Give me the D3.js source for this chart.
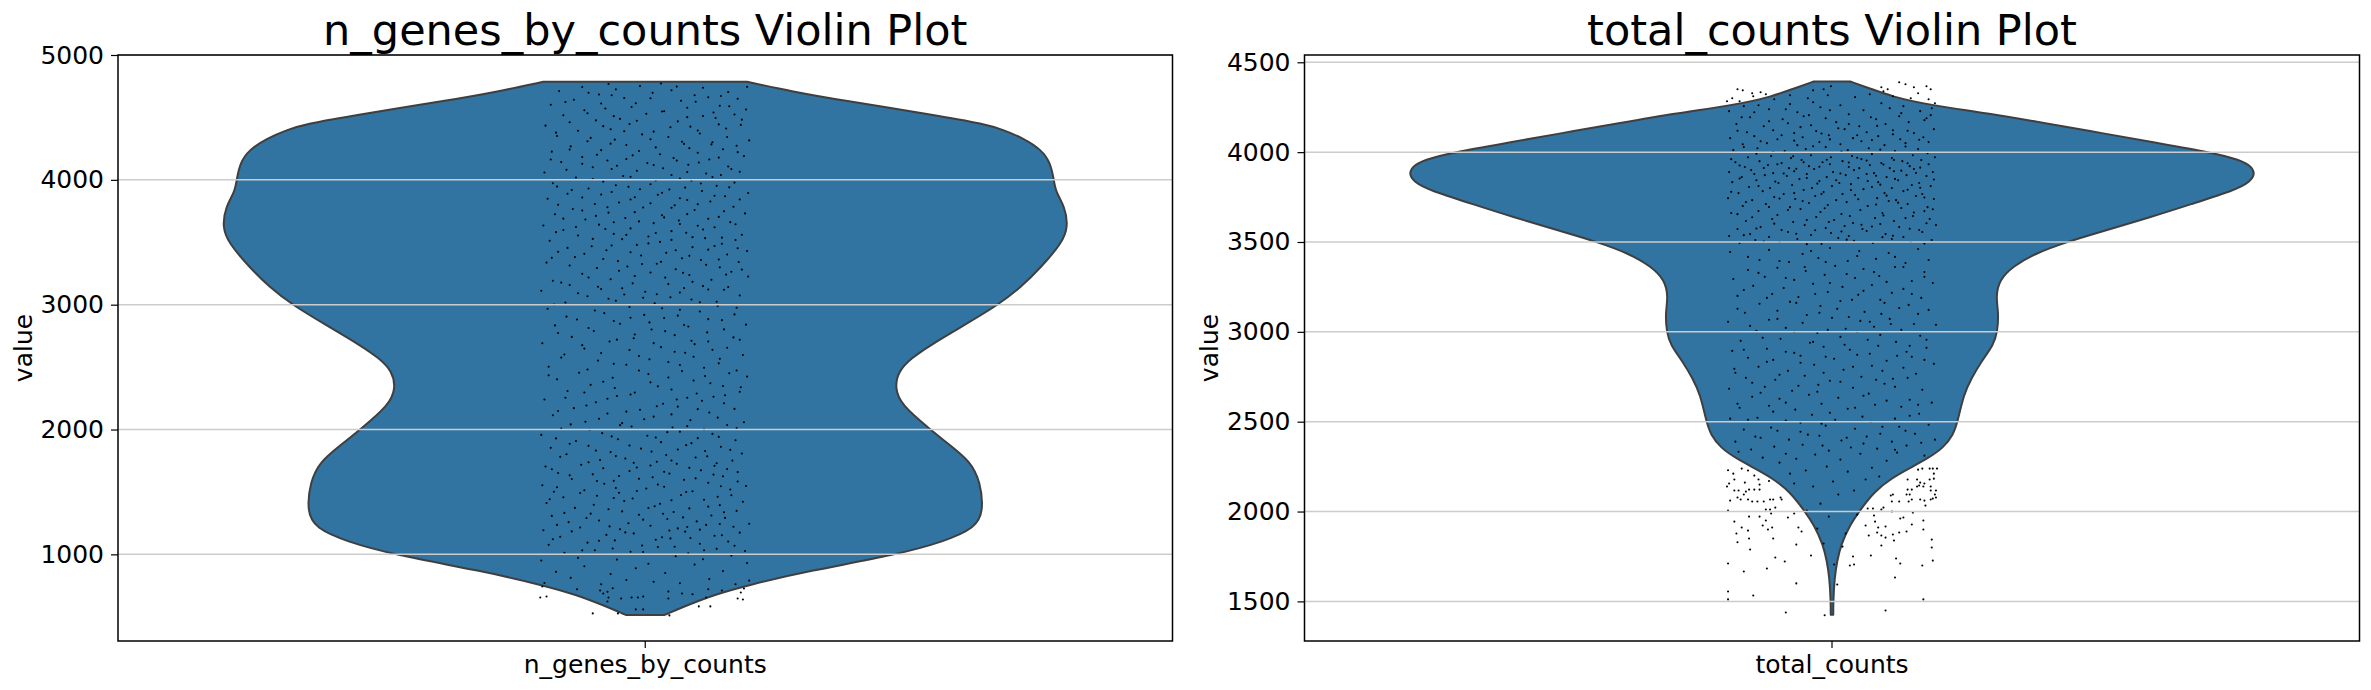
<!DOCTYPE html>
<html><head><meta charset="utf-8">
<script src="https://cdnjs.cloudflare.com/ajax/libs/d3/7.8.5/d3.min.js"></script>
<style>html,body{margin:0;background:#fff}svg{display:block}text{font-family:"DejaVu Sans",sans-serif;fill:#000}</style>
</head><body><svg id="c" width="2371" height="690"></svg>
<script>
const geneTicks=[1000,2000,3000,4000,5000];
const totalTicks=[1500,2000,2500,3000,3500,4000,4500];
const geneDomain=[306,5000];
const totalDomain=[1279.6,4540.6];
const geneViolinValues=[4785,4706,4640,4520,4447,4400,4333,4240,4135,4000,3906,3785,3625,3493,3305,3145,3000,2840,2680,2572,2465,2332,2198,2000,1878,1744,1584,1344,1210,1104,1000,863,757,677,596,515];
const geneViolinDensity=[24.1,35,45.9,68.3,80.4,84.7,89.4,93.7,95.8,96.6,97,99.2,100,98.5,93.7,89,83.5,75.6,67.6,62.9,59.8,59,60.5,67.4,71.9,76.9,79.2,80,78,70.7,59.8,38,24.7,16.3,10.2,4.6];
const totalViolinValues=[4393,4356,4309,4263,4217,4161,4106,4050,4000,3957,3920,3879,3836,3790,3716,3642,3550,3500,3438,3364,3290,3197,3105,3000,2928,2835,2743,2650,2500,2428,2354,2298,2243,2187,2112,2000,1927,1816,1723,1631,1500,1425];
const totalViolinDensity=[4.3,8.8,14.2,22.8,36.8,50.5,63.8,77.2,89.3,96.6,99.2,100,98.9,95.4,85.6,75.9,62.6,55.5,48.2,42.7,39.6,38.7,39.4,39.1,38.2,35.3,33,31.1,29.7,28.7,26.3,22.8,18.5,14.2,10,6.4,4.3,2.1,1.2,.6,.3,.3];
// strip points: offset (-100..100 of jitter width), value, alternating
const genePoints=[-100,655,-94,663,-98,743,-50,527,-26,527,-9,559,-2,559,23,511,51,583,62,583,88,647,93,639,91,695,94,727,-23,647,-13,655,-7,655,-2,663,22,647,22,703,-36,623,-35,655,-40,687,-43,711,-36,700,-31,728,-65,720,35,687,45,680,58,655,60,720,73,711,86,760,99,790,
-96,771,-71,812,-42,760,-18,795,8,781,33,768,61,802,-85,860,-58,905,-33,842,-9,889,19,851,47,918,74,866,97,930,-99,951,-64,972,-27,958,3,925,29,985,55,961,82,990,-77,1012,-48,1033,-14,1021,12,1058,41,1009,68,1044,95,1027,-92,1076,-55,1094,-29,1112,-3,1071,24,1128,52,1085,79,1103,-81,1141,-37,1156,-11,1168,16,1137,38,1182,66,1149,90,1174,-97,1193,-62,1215,-24,1201,5,1229,31,1208,58,1236,84,1221,-73,1258,-44,1271,-16,1249,21,1283,49,1264,76,1292,99,1245,-89,1308,-52,1326,-6,1317,27,1339,63,1311,87,1348,-67,1372,-35,1361,9,1385,42,1368,71,1394,-94,1412,-20,1427,14,1405,56,1438,93,1421,-78,1457,-46,1469,-12,1448,34,1476,69,1461,-87,1501,-58,1514,-25,1493,1,1527,45,1506,81,1519,-98,1553,-39,1566,18,1541,60,1574,96,1547,-70,1603,-30,1589,7,1618,37,1597,74,1625,-83,1652,-50,1641,-15,1668,23,1647,53,1673,88,1659,-95,1704,-61,1718,-8,1696,30,1725,66,1709,-43,1755,-19,1768,11,1742,48,1776,83,1751,-75,1802,-33,1819,20,1795,57,1828,92,1808,-90,1853,-54,1869,-4,1847,39,1875,72,1861,-66,1908,-26,1922,15,1899,50,1931,86,1914,-99,1957,-41,1971,2,1950,33,1983,64,1965,-80,2008,-13,2024,26,2016,78,2036,-57,2062,-22,2051,43,2075,94,2058,-88,2114,-36,2128,8,2103,61,2136,-68,2171,-5,2158,31,2183,85,2165,-47,2219,17,2207,54,2231,-96,2240,-27,2268,40,2254,76,2275,-74,2309,-10,2296,25,2321,90,2302,-52,2358,12,2346,62,2371,-84,2402,-31,2415,46,2393,97,2424,-63,2455,3,2444,35,2468,80,2451,-92,2503,-18,2519,56,2495,-45,2552,22,2541,71,2566,-77,2601,-6,2589,38,2615,93,2597,-58,2648,15,2660,64,2638,-98,2691,-34,2705,47,2684,-70,2742,-11,2731,28,2756,84,2738,-49,2789,6,2801,59,2778,-86,2834,-24,2847,41,2825,96,2840,-65,2881,18,2893,73,2876,-39,2932,-1,2918,52,2945,-93,2968,-15,2981,33,2959,87,2975,-76,3018,-28,3031,9,3011,44,3042,68,3024,-55,3068,-20,3081,24,3059,90,3074,-99,3112,-42,3125,0,3104,37,3133,75,3119,-72,3158,-12,3171,55,3149,-33,3204,-88,3192,19,3217,63,3199,98,3226,-60,3247,5,3258,42,3238,82,3264,-46,3293,-17,3306,29,3284,71,3299,-94,3337,-26,3349,11,3328,53,3358,89,3342,-67,3381,-4,3394,35,3372,78,3402,-83,3423,-37,3436,20,3415,60,3441,97,3429,-51,3468,-8,3479,45,3461,73,3488,-91,3512,-22,3525,14,3503,57,3533,86,3518,-64,3554,-30,3567,3,3546,39,3576,92,3560,-78,3598,-14,3611,25,3589,66,3620,-44,3641,-97,3634,8,3653,50,3632,81,3661,-57,3682,-19,3694,32,3674,70,3703,-86,3724,-35,3737,16,3716,95,3731,-69,3766,-2,3778,47,3758,84,3785,-48,3806,-25,3819,28,3797,62,3827,-93,3848,-10,3861,40,3839,76,3869,-74,3889,-32,3902,12,3881,54,3911,98,3895,-54,3931,-16,3944,23,3923,68,3952,-88,3973,-40,3986,5,3965,44,3994,85,3978,-66,4019,-21,4031,33,4010,72,4038,-96,4059,-8,4072,58,4051,90,4065,-50,4101,-27,4113,17,4093,41,4121,79,4107,-80,4142,-36,4155,2,4134,61,4163,-60,4183,-12,4196,27,4175,94,4190,-89,4226,-42,4238,50,4217,74,4245,-71,4268,-18,4279,10,4260,37,4288,87,4273,-55,4309,-29,4322,64,4301,99,4316,-84,4351,-3,4364,22,4343,52,4371,-64,4393,-33,4405,8,4386,77,4411,-95,4434,-15,4447,43,4426,91,4440,-47,4476,-24,4488,31,4468,67,4495,-78,4517,1,4529,55,4511,85,4523,-58,4558,-38,4571,18,4550,40,4578,96,4563,-90,4601,-9,4613,71,4594,-68,4642,-20,4655,34,4634,60,4661,88,4649,-44,4684,7,4697,47,4677,-82,4711,-28,4725,25,4718,79,4704,-60,4743,-5,4751,55,4738,97,4745,-35,4768,15,4772,
-60,1032,-31,1047,-2,1019,28,1061,56,1033,85,1069,-88,1121,-44,1109,10,1117,43,1131,73,1153,-70,1184,-19,1176,23,1191,52,1198,-84,1236,-34,1224,40,1219,71,1243,-56,1291,-2,1278,36,1296,-77,1332,-22,1344,17,1325,75,1337,-49,1397,3,1371,60,1382,-91,1441,-30,1452,25,1433,82,1474,-62,1491,-8,1507,39,1499,-84,1538,-28,1531,12,1559,72,1545,-46,1588,-6,1606,48,1609,88,1584,-72,1633,-25,1628,18,1661,65,1639,-89,1682,-40,1690,5,1712,42,1693,78,1683,-54,1738,-11,1733,25,1752,68,1730,-81,1781,-28,1787,59,1785,-47,1831,6,1823,31,1840,81,1837,-72,1886,-15,1872,44,1891,-32,1945,-85,1929,10,1936,70,1941,-53,1998,21,1979,56,2001,-24,2035,-71,2041,40,2027,87,2012,-44,2086,-1,2082,69,2095,-83,2148,-18,2143,25,2121,50,2163,-56,2193,11,2186,75,2210,-36,2247,-76,2255,30,2241,65,2262,-14,2281,-58,2297,49,2289,91,2338,-29,2333,5,2378,74,2349,-40,2383,-92,2434,22,2417,57,2428,-6,2473,-55,2481,87,2473,-30,2526,33,2517,70,2530,-80,2576,4,2562,46,2583,-42,2612,-15,2637,28,2623,78,2655,-60,2676,8,2692,60,2705,-27,2720,44,2711,90,2719,-83,2773,-10,2761,19,2788,75,2802,-54,2813,37,2837,-30,2869,4,2858,60,2884,-75,2904,-14,2895,31,2912,85,2922,-48,2953,16,2971,69,2990,-87,3002,-35,3048,-2,3056,52,3019,-64,3091,11,3083,33,3097,79,3141,-45,3144,-22,3132,60,3122,-80,3177,22,3165,45,3183,-10,3230,-54,3218,77,3241,-25,3272,36,3255,92,3281,-72,3314,-3,3325,58,3319,-40,3366,15,3343,-89,3375,42,3391,70,3362,-58,3407,-14,3420,29,3436,88,3452,-32,3474,-74,3455,3,3491,66,3470,-50,3527,25,3519,45,3541,-18,3559,-85,3581,10,3574,73,3537,-38,3606,55,3602,-66,3622,33,3646,-6,3667,-30,3660,86,3644,-78,3689,18,3699,60,3688,-47,3711,-10,3741,40,3725,-60,3754,25,3776,75,3749,-36,3781,-83,3801,5,3813,50,3805,-14,3843,-60,3858,33,3853,90,3842,-42,3882,16,3896,66,3873,-70,3919,-5,3925,38,3938,-28,3957,80,3940,-84,3946,53,3971,10,3996,-50,4007,25,4038,-14,4024,64,4022,-75,4080,40,4062,-32,4087,82,4086,-60,4128,8,4118,51,4139,-18,4166,-90,4163,30,4154,70,4178,-46,4201,14,4205,88,4222,-72,4243,-6,4231,42,4254,-33,4290,63,4284,-52,4336,5,4325,35,4305,78,4343,-85,4378,-20,4389,50,4395,-40,4430,24,4421,70,4444,-72,4461,-8,4473,92,4482,-30,4510,40,4502,-55,4533,16,4548,65,4540,-13,4583,80,4590,-42,4611,-76,4624,48,4625,5,4653,-32,4677,72,4671,-54,4698,30,4747];
const totalPoints=[-99,1711,-99,1555,-99,1511,-84,1666,-75,1533,-44,1438,-7,1423,51,1449,87,1511,-34,1600,5,1594,60,1633,-62,1683,-54,1744,-45,1722,2,1705,17,1700,21,1705,20,1750,37,1755,61,1739,65,1711,86,1700,96,1727,95,1800,95,1844,-78,1789,-79,1850,-90,1829,-91,1878,-80,1894,-86,1911,-93,1944,-79,1972,-99,2005,-34,1816,-56,1850,-61,1900,-66,1922,-69,1972,-63,1950,-57,1911,-63,2011,-59,2011,-58,1989,-42,1967,-32,1911,-29,1889,-36,1989,-49,2078,-48,2067,-59,2067,-56,2067,-54,2022,-65,2056,-71,2056,-76,2056,-80,2067,-87,2067,-90,2078,-97,2061,-100,2139,-98,2156,-93,2117,-89,2117,-84,2095,-82,2111,-79,2122,-74,2122,-69,2122,-69,2150,32,1922,35,1867,43,1883,44,1911,47,1867,47,1811,51,1855,58,1872,59,1839,64,1883,71,1889,76,1928,87,1950,87,1900,65,1961,68,1967,77,1994,40,1978,41,1944,51,1917,57,2000,47,2011,39,2017,34,2017,49,2022,57,2056,64,2056,56,2089,58,2095,73,2056,76,2067,84,2067,88,2061,89,2033,94,2067,96,2072,99,2078,71,2095,74,2095,72,2122,76,2122,81,2139,83,2145,87,2139,94,2139,99,2117,98,2095,94,2117,72,2178,81,2178,84,2161,88,2156,93,2178,97,2183,97,2211,100,2239,96,2239,93,2239,86,2239,82,2233,-99,2230,-94,2211,-86,2239,-80,2228,-74,2200,-70,2178,-60,2170,-93,2178,-83,2161,
-20,1755,-8,1822,10,1805,-14,1905,13,1878,-3,1972,24,1983,-24,2006,-11,2044,6,2095,21,2117,-18,2139,1,2167,-36,2156,32,2178,45,2195,-40,2211,-25,2228,-5,2250,15,2222,38,2244,52,2283,-50,2272,-66,2300,-34,2294,-16,2317,8,2289,27,2322,62,2328,-77,2345,-55,2361,-28,2372,-3,2339,18,2356,43,2350,71,2367,88,2311,-92,2389,-68,2411,-41,2400,-12,2422,9,2395,33,2417,57,2389,79,2433,98,2400,-84,2456,-58,2467,-30,2444,-6,2478,22,2461,48,2472,70,2450,92,2483,-97,2517,-71,2522,-44,2506,-19,2539,3,2511,29,2528,60,2517,83,2544,-88,2578,-60,2589,-35,2567,-10,2600,15,2572,41,2594,66,2583,95,2606,-76,2639,-50,2628,-22,2650,6,2633,35,2656,74,2622,-98,2683,-64,2694,-38,2672,-13,2706,20,2689,50,2711,86,2678,-82,2744,-54,2733,-26,2756,-2,2728,28,2750,58,2739,80,2767,-93,2794,-70,2806,-42,2783,-17,2817,11,2789,38,2811,68,2800,97,2822,-80,2856,-56,2844,-30,2867,2,2850,24,2872,52,2839,76,2861,-95,2894,-62,2906,-36,2883,-8,2917,17,2900,44,2922,71,2889,90,2911,-87,2950,-49,2961,-21,2939,8,2972,34,2956,61,2944,84,2978,-72,3006,-44,3022,-14,2994,13,3017,40,3028,66,3011,99,3039,-99,3056,-60,3067,-28,3050,0,3078,27,3061,55,3072,78,3044,-83,3106,-52,3117,-24,3094,5,3128,31,3111,47,3100,92,3122,-69,3156,-40,3167,-11,3144,19,3178,50,3161,73,3150,-90,3200,-57,3211,-32,3194,-4,3222,25,3206,57,3217,85,3189,-75,3256,-46,3244,-18,3267,10,3250,38,3261,68,3239,96,3272,-94,3294,-64,3306,-36,3289,-7,3317,22,3300,45,3311,76,3283,-80,3344,-52,3356,-25,3339,3,3367,30,3350,60,3361,88,3333,-69,3400,-41,3389,-13,3411,15,3394,42,3406,70,3383,-97,3444,-60,3456,-28,3433,-2,3467,26,3450,54,3439,82,3461,
-88,3494,-73,3511,-50,3500,-33,3517,-10,3489,6,3522,21,3506,39,3494,57,3517,75,3500,95,3511,-98,3533,-78,3544,-60,3528,-42,3556,-20,3539,-1,3550,16,3533,33,3561,51,3544,68,3528,86,3556,-90,3572,-68,3583,-48,3567,-26,3594,-6,3578,12,3589,29,3572,46,3600,64,3583,83,3567,99,3594,-82,3617,-57,3628,-37,3611,-15,3639,2,3622,20,3606,41,3633,59,3617,77,3644,93,3628,-96,3661,-70,3672,-52,3650,-30,3683,-11,3667,9,3656,27,3678,48,3661,66,3689,88,3672,-85,3700,-63,3711,-40,3694,-22,3717,-4,3706,14,3722,34,3700,54,3728,72,3711,91,3694,-99,3744,-76,3733,-55,3750,-35,3739,-16,3756,4,3733,22,3761,43,3744,61,3733,80,3756,97,3739,-89,3772,-66,3783,-46,3767,-27,3789,-8,3778,10,3767,30,3794,50,3772,68,3783,86,3767,-79,3806,-59,3800,-38,3817,-19,3800,0,3811,18,3822,38,3806,57,3800,76,3817,94,3811,-95,3833,-72,3844,-51,3828,-31,3850,-12,3839,7,3828,25,3856,44,3833,63,3844,83,3828,-86,3861,-64,3872,-43,3867,-24,3878,-5,3861,13,3872,33,3878,52,3861,71,3872,90,3867,-98,3889,-77,3900,-56,3883,-36,3894,-17,3906,1,3889,21,3900,40,3883,59,3894,78,3906,96,3889,-83,3917,-61,3928,-41,3911,-22,3922,-2,3933,16,3917,36,3928,55,3911,74,3922,92,3933,-92,3944,-69,3950,-48,3939,-29,3956,-9,3944,10,3950,28,3961,47,3939,67,3950,85,3956,-80,3972,-58,3978,-39,3967,-20,3983,-1,3972,19,3978,38,3989,57,3967,77,3983,98,3972,-94,4011,-71,4022,-45,4006,-25,4017,-6,4028,15,4011,35,4022,60,4006,82,4017,-85,4044,-62,4050,-33,4039,-12,4056,8,4044,28,4061,50,4039,70,4050,92,4056,-97,4078,-74,4089,-52,4072,-28,4083,-3,4094,20,4078,44,4089,65,4072,87,4083,-81,4111,-56,4122,-36,4106,-15,4117,12,4128,33,4111,58,4122,78,4106,97,4128,-91,4156,-65,4144,-42,4161,-20,4150,4,4167,26,4144,51,4156,73,4167,-78,4194,-47,4183,-27,4200,-6,4189,16,4211,42,4183,64,4200,90,4189,-98,4228,-60,4239,-33,4222,-11,4250,30,4233,55,4244,84,4228,-70,4261,-84,4256,-40,4267,-18,4278,8,4261,47,4272,68,4256,95,4244,-88,4283,-55,4294,-23,4300,-4,4317,22,4306,-75,4311,-95,4300,-63,4322,-40,4317,36,4322,49,4339,58,4311,75,4300,82,4328,92,4294,98,4272,-90,4350,-85,4344,-76,4328,-68,4333,-18,4344,-1,4367,-8,4350,47,4361,53,4350,64,4389,70,4378,78,4361,90,4367,94,4350,-100,4283,
-65,3503,-24,3488,14,3513,48,3527,88,3491,-84,3538,-34,3546,9,3558,58,3535,-72,3575,-16,3565,38,3586,74,3574,-55,3602,-3,3611,28,3596,90,3604,-76,3638,-24,3622,49,3648,70,3633,-90,3655,-42,3678,17,3644,78,3664,-60,3695,-7,3688,42,3709,96,3682,-82,3722,-28,3728,25,3738,63,3719,-50,3742,-10,3767,52,3758,88,3748,-96,3779,-36,3772,18,3789,72,3791,-70,3812,-14,3825,46,3819,84,3802,-54,3836,4,3844,34,3839,-88,3853,-24,3856,60,3851,97,3848,-74,3878,-46,3881,8,3881,42,3869,80,3884,-34,3908,-65,3912,26,3911,66,3897,-88,3926,-12,3919,49,3931,84,3914,-52,3933,-27,3944,16,3942,72,3938,-96,3961,-5,3958,33,3953,59,3956,-72,3991,-37,3977,24,3969,91,3994,-56,4001,9,4003,46,4014,-84,4028,-18,4033,70,4031,-36,4064,-68,4061,-2,4071,38,4067,83,4069,-48,4094,24,4094,58,4099,-90,4119,-10,4104,72,4119,-30,4139,6,4133,43,4146,-60,4172,16,4156,88,4178,-86,4194,-22,4206,37,4194,66,4217,-44,4239,-2,4233,-74,4222,94,4206,
-89,2333,-44,2322,-9,2367,30,2378,60,2344,85,2383,-73,2417,-23,2428,14,2411,46,2433,-52,2450,-10,2489,64,2472,-80,2511,-30,2494,37,2500,74,2533,-56,2556,-2,2550,22,2578,-90,2600,-44,2606,52,2617,82,2594,-68,2661,-14,2667,30,2644,-32,2700,60,2694,-76,2717,8,2722,42,2733,-50,2761,-8,2772,72,2744,-92,2772,20,2806,48,2783,-30,2828,-62,2833,88,2844,-6,2861,36,2878,62,2867,-84,2900,-44,2889,12,2928,-18,2944,74,2922,-66,2967,46,2983,90,2956,-36,3000,-4,3011,24,3000,-78,3033,56,3044,-52,3072,16,3083,36,3056,82,3100,-12,3106,-90,3128,64,3133,-34,3161,8,3172,46,3178,-62,3189,-16,3211,30,3228,76,3211,-84,3233,-2,3272,52,3278,-44,3300,14,3322,88,3306,-70,3328,-26,3361,40,3333,68,3361,-6,3389,-50,3394,24,3422,92,3400,-80,3417,-20,3450,60,3417];

const H={t:55,b:641};
const panels=[
{title:"n_genes_by_counts Violin Plot",cat:"n_genes_by_counts",l:118,r:1172.5,dom:geneDomain,ticks:geneTicks,vals:geneViolinValues,dens:geneViolinDensity,pts:genePoints,ylab:24},
{title:"total_counts Violin Plot",cat:"total_counts",l:1304.5,r:2359.5,dom:totalDomain,ticks:totalTicks,vals:totalViolinValues,dens:totalViolinDensity,pts:totalPoints,ylab:1210}];
const svg=d3.select("#c");
const FILL="#3274a1",EDGE="#3f3f3f",GRID="#cccccc";
panels.forEach(p=>{
 const g=svg.append("g");
 const x=d3.scaleBand([p.cat],[p.l,p.r]);
 const cx=x(p.cat)+x.bandwidth()/2;
 const y=d3.scaleLinear(p.dom,[H.b,H.t]);
 const half=d3.scaleLinear([0,100],[0,423]);
 const jitter=d3.scaleLinear([-100,100],[cx-105,cx+105]);
 const outline=p.vals.map((v,i)=>({v,d:p.dens[i]}));
 g.append("path").datum(outline)
  .attr("d",d3.area().curve(d3.curveBasis).y(d=>y(d.v)).x0(d=>cx-half(d.d)).x1(d=>cx+half(d.d)))
  .attr("fill",FILL).attr("stroke",EDGE).attr("stroke-width",2).attr("stroke-linejoin","round");
 const pts=d3.range(0,p.pts.length,2).map(i=>[p.pts[i],p.pts[i+1]]);
 g.append("g").selectAll("circle").data(pts).join("circle")
  .attr("cx",d=>jitter(d[0])).attr("cy",d=>y(d[1])).attr("r",1.05).attr("fill","#000");
 g.append("g").selectAll("line").data(p.ticks).join("line")
  .attr("x1",p.l).attr("x2",p.r).attr("y1",d=>y(d)).attr("y2",d=>y(d))
  .attr("stroke",GRID).attr("stroke-width",1.5);
 const ya=g.append("g").attr("transform",`translate(${p.l},0)`).call(d3.axisLeft(y).tickValues(p.ticks).tickFormat(d3.format("d")).tickSize(7).tickPadding(7));
 ya.select(".domain").remove();
 ya.selectAll("line").attr("stroke","#000").attr("stroke-width",1.2);
 ya.selectAll("text").attr("font-size",25);
 const xa=g.append("g").attr("transform",`translate(0,${H.b})`).call(d3.axisBottom(x).tickSize(7).tickPadding(7));
 xa.select(".domain").remove();
 xa.selectAll("line").attr("stroke","#000").attr("stroke-width",1.2);
 xa.selectAll("text").attr("font-size",25);
 g.append("rect").attr("x",p.l).attr("y",H.t).attr("width",p.r-p.l).attr("height",H.b-H.t).attr("fill","none").attr("stroke","#000").attr("stroke-width",1.5);
 g.append("text").attr("x",(p.l+p.r)/2).attr("y",45).attr("text-anchor","middle").attr("font-size",43).text(p.title);
 g.append("text").attr("transform",`translate(${p.ylab+8},${(H.t+H.b)/2}) rotate(-90)`).attr("text-anchor","middle").attr("font-size",25).text("value");
});
</script></body></html>
